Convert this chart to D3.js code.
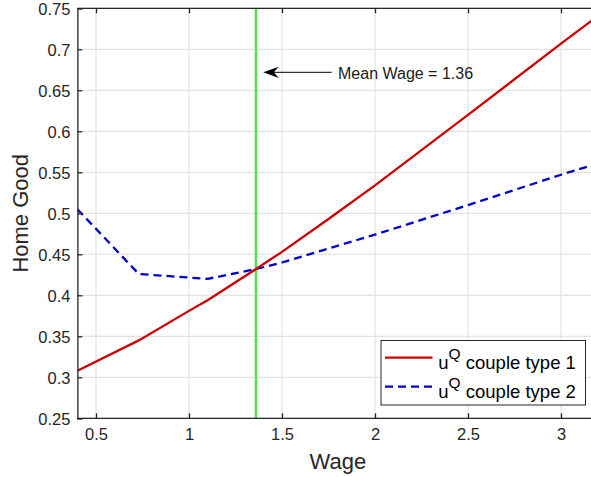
<!DOCTYPE html>
<html>
<head>
<meta charset="utf-8">
<script src="https://cdn.jsdelivr.net/npm/d3@7"></script>
<style>
  html, body { margin: 0; padding: 0; background: #fff; }
  svg { display: block; font-family: "Liberation Sans", Arial, Helvetica, sans-serif; }
</style>
</head>
<body>
<svg id="chart" width="591" height="477"></svg>
<script>
// Wage grid and home-good choice for the two couple types
const wage      = [0.40, 0.73, 1.00, 1.10, 1.36, 1.50, 1.75, 2.00, 2.50, 3.00, 3.20];
const homeType1 = [0.308, 0.345, 0.381, 0.394, 0.432, 0.453, 0.493, 0.534, 0.620, 0.707, 0.741];
const wage2     = [0.40, 0.73, 1.10, 1.36, 1.50, 2.00, 2.50, 3.00, 3.20];
const homeType2 = [0.505, 0.426, 0.420, 0.432, 0.440, 0.474, 0.510, 0.547, 0.561];
const meanWage  = 1.36;

const xTicks = [0.5, 1, 1.5, 2, 2.5, 3];
const yTicks = [0.25, 0.3, 0.35, 0.4, 0.45, 0.5, 0.55, 0.6, 0.65, 0.7, 0.75];
const legendLabels = ["couple type 1", "couple type 2"];

const svg = d3.select("#chart");
const W = 591, H = 477;
const pLeft = 77.4, pTop = 8.3, pBottom = 418.3, pRight = 598.2;

const x = d3.scaleLinear().domain([0.4, 3.2]).range([pLeft, pRight]);
const y = d3.scaleLinear().domain([0.25, 0.75]).range([pBottom, pTop]);

const axisColor = "#262626";

svg.append("defs").append("clipPath").attr("id", "plotClip")
  .append("rect").attr("x", pLeft).attr("y", pTop)
  .attr("width", pRight - pLeft).attr("height", pBottom - pTop);

// grid
const grid = svg.append("g");
grid.selectAll(".gx").data(xTicks).join("line")
  .attr("x1", d => x(d)).attr("x2", d => x(d))
  .attr("y1", pTop).attr("y2", pBottom)
  .attr("stroke", "#e3e3e3").attr("stroke-width", 1.2);
grid.selectAll(".gy").data(yTicks).join("line")
  .attr("x1", pLeft).attr("x2", pRight)
  .attr("y1", d => y(d)).attr("y2", d => y(d))
  .attr("stroke", "#e3e3e3").attr("stroke-width", 1.2);

// data lines
const plot = svg.append("g").attr("clip-path", "url(#plotClip)");
const line = d3.line().x(d => x(d[0])).y(d => y(d[1]));

plot.append("line")
  .attr("x1", x(meanWage)).attr("x2", x(meanWage))
  .attr("y1", pTop).attr("y2", pBottom)
  .attr("stroke", "#55e055").attr("stroke-width", 2.6);

plot.append("path")
  .datum(d3.zip(wage2, homeType2))
  .attr("d", line).attr("fill", "none")
  .attr("stroke", "#0000cc").attr("stroke-width", 2.3)
  .attr("stroke-dasharray", "8,5");

plot.append("path")
  .datum(d3.zip(wage, homeType1))
  .attr("d", line).attr("fill", "none")
  .attr("stroke", "#cc0000").attr("stroke-width", 2.3);

// axes (box with inward ticks)
const tickLen = 5;
const xb = svg.append("g").attr("transform", `translate(0,${pBottom})`)
  .call(d3.axisBottom(x).tickValues(xTicks).tickSize(-tickLen).tickPadding(10)
        .tickFormat(d3.format("")));
const xt = svg.append("g").attr("transform", `translate(0,${pTop})`)
  .call(d3.axisTop(x).tickValues(xTicks).tickSize(-tickLen).tickFormat(""));
const yl = svg.append("g").attr("transform", `translate(${pLeft},0)`)
  .call(d3.axisLeft(y).tickValues(yTicks).tickSize(-tickLen).tickPadding(7)
        .tickFormat(d3.format("")));

[xb, xt, yl].forEach(g => {
  g.select(".domain").attr("stroke", axisColor).attr("stroke-width", 1.3);
  g.selectAll(".tick line").attr("stroke", axisColor).attr("stroke-width", 1.3);
  g.selectAll(".tick text").attr("fill", axisColor)
    .style("font-size", "16.5px").style("font-family", "inherit");
});
xb.select(".domain").attr("d", `M${pLeft},0H${W + 10}`);
xt.select(".domain").attr("d", `M${pLeft},0H${W + 10}`);
yl.selectAll(".tick text").attr("dy", "0.36em");

// axis titles
svg.append("text")
  .attr("x", (pLeft + pRight) / 2).attr("y", 469)
  .attr("text-anchor", "middle").attr("fill", axisColor)
  .style("font-size", "22px").text("Wage");
svg.append("text")
  .attr("transform", `translate(28,${(pTop + pBottom) / 2}) rotate(-90)`)
  .attr("text-anchor", "middle").attr("fill", axisColor)
  .style("font-size", "22px").text("Home Good");

// mean wage annotation with arrow
const ay = 72.3;
const tipX = x(meanWage) + 7.3;
svg.append("line")
  .attr("x1", tipX + 8).attr("x2", 331.7)
  .attr("y1", ay).attr("y2", ay)
  .attr("stroke", "#000").attr("stroke-width", 1);
svg.append("path")
  .attr("d", `M${tipX},${ay} L${tipX + 15.5},${ay - 5.6} L${tipX + 10.5},${ay} L${tipX + 15.5},${ay + 5.6} Z`)
  .attr("fill", "#000");
svg.append("text")
  .attr("x", 338).attr("y", 78.5)
  .attr("fill", "#1a1a1a").style("font-size", "16px")
  .text(`Mean Wage = ${meanWage}`);

// legend
const lg = svg.append("g");
lg.append("rect")
  .attr("x", 381).attr("y", 340.5).attr("width", 204.5).attr("height", 64.5)
  .attr("fill", "#fff").attr("stroke", axisColor).attr("stroke-width", 1);
const legendStyles = [
  { color: "#cc0000", dash: null },
  { color: "#0000cc", dash: "8,5" }
];
legendLabels.forEach((lab, i) => {
  const cy = 357.7 + i * 29;
  lg.append("line")
    .attr("x1", 385).attr("x2", 432.5).attr("y1", cy).attr("y2", cy)
    .attr("stroke", legendStyles[i].color).attr("stroke-width", 2.3)
    .attr("stroke-dasharray", legendStyles[i].dash);
  const t = lg.append("text")
    .attr("x", 438.3).attr("y", cy + 11.6)
    .attr("fill", "#000").style("font-size", "18.5px");
  t.append("tspan").text("u");
  t.append("tspan").attr("dy", -10).style("font-size", "15.5px").text("Q");
  t.append("tspan").attr("dy", 10).text(" " + lab);
});
</script>
</body>
</html>
